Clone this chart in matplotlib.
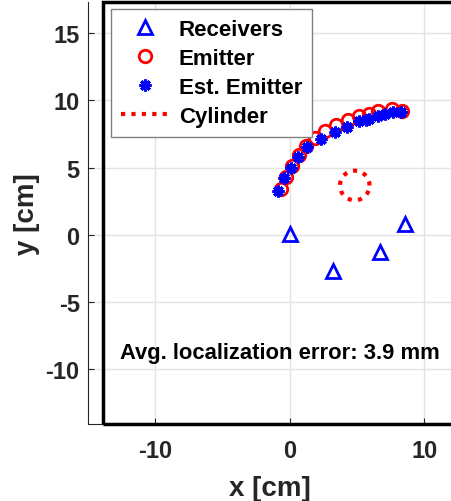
import numpy as np
import matplotlib
matplotlib.use("Agg")
import matplotlib.pyplot as plt
from matplotlib.patches import Rectangle

plt.rcParams['font.family'] = ['Liberation Sans', 'DejaVu Sans']
plt.rcParams['font.weight'] = 'bold'
plt.rcParams['axes.unicode_minus'] = False

# Data (cm)
rx_x = [0.0, 3.2, 6.7, 8.55]
rx_y = [0.05, -2.7, -1.3, 0.8]

em_x = [-0.62, -0.30, 0.20, 0.67, 1.24, 1.86, 2.60, 3.47, 4.34, 5.15, 5.90, 6.57, 7.63, 8.38]
em_y = [3.42, 4.29, 5.10, 5.90, 6.60, 7.19, 7.68, 8.18, 8.50, 8.80, 9.00, 9.17, 9.32, 9.22]

est_x = [-0.87, -0.45, 0.12, 0.62, 1.29, 2.30, 3.35, 4.26, 5.13, 5.65, 5.90, 6.57, 7.06, 7.68, 8.30]
est_y = [3.29, 4.20, 4.98, 5.78, 6.50, 7.14, 7.63, 8.00, 8.43, 8.55, 8.58, 8.83, 9.00, 9.12, 9.12]

cyl_center = (4.83, 3.67)
cyl_radius = 1.1

xticks = [-10, 0, 10]
yticks = [-10, -5, 0, 5, 10, 15]
err_text = 'Avg. localization error: 3.9 mm'

fig = plt.figure(figsize=(4.52, 5.02), dpi=100)
ax = fig.add_axes([88/452, 77/502, (452-88)/452, 422/502])
ax.set_xlim(-15, 12.06)
ax.set_ylim(-14.05, 17.3)

ax.grid(True, color='#e3e3e3', lw=1.0)
ax.set_axisbelow(True)

ax.plot(rx_x, rx_y, linestyle='none', marker='^', mfc='none', mec='blue',
        mew=2.0, ms=10, label='Receivers', zorder=3)
ax.plot(em_x, em_y, linestyle='none', marker='o', mfc='none', mec='red',
        mew=2.0, ms=9, label='Emitter', zorder=3)
ax.plot(est_x, est_y, linestyle='none', marker=(8, 2, 0), color='blue',
        mec='blue', mew=2.2, ms=8.5, label='Est. Emitter', zorder=4)
t = np.linspace(0, 2 * np.pi, 200)
ax.plot(cyl_center[0] + cyl_radius * np.cos(t), cyl_center[1] + cyl_radius * np.sin(t),
        color='red', lw=3, linestyle=(0, (1, 1.5)), label='Cylinder', zorder=3)

ax.set_xticks(xticks)
ax.set_yticks(yticks)
ax.tick_params(direction='in', length=4, width=0.8, colors='#262626', labelsize=17,
               labelcolor='#262626')
ax.tick_params(axis='x', pad=11)
ax.tick_params(axis='y', pad=6)
for lab in ax.get_xticklabels() + ax.get_yticklabels():
    lab.set_fontweight('bold')
ax.set_xlabel('x [cm]', fontsize=20, fontweight='bold', color='#262626', labelpad=9)
ax.set_ylabel('y [cm]', fontsize=20, fontweight='bold', color='#262626', labelpad=4)

for s in ['top', 'right']:
    ax.spines[s].set_visible(False)
for s in ['left', 'bottom']:
    ax.spines[s].set_color('#262626')
    ax.spines[s].set_linewidth(0.8)

ax.add_patch(Rectangle((-13.9, -14.05), 40, 31.35, fill=False, ec='black', lw=2.5,
                       clip_on=False, zorder=6))

ax.text(-12.6, -8.75, err_text, fontsize=15.8, fontweight='bold', color='black',
        ha='left', va='center', zorder=5)

leg = ax.legend(loc='upper left', bbox_to_anchor=(0.063, 0.984), borderaxespad=0,
                fontsize=16, fancybox=False, framealpha=1, edgecolor='#808080',
                handlelength=2.2, handletextpad=0.4, labelspacing=0.36, borderpad=0.45)
leg.get_frame().set_linewidth(1.0)
leg.set_zorder(7)
for txt in leg.get_texts():
    txt.set_fontweight('bold')

fig.savefig('out.png', dpi=100)
